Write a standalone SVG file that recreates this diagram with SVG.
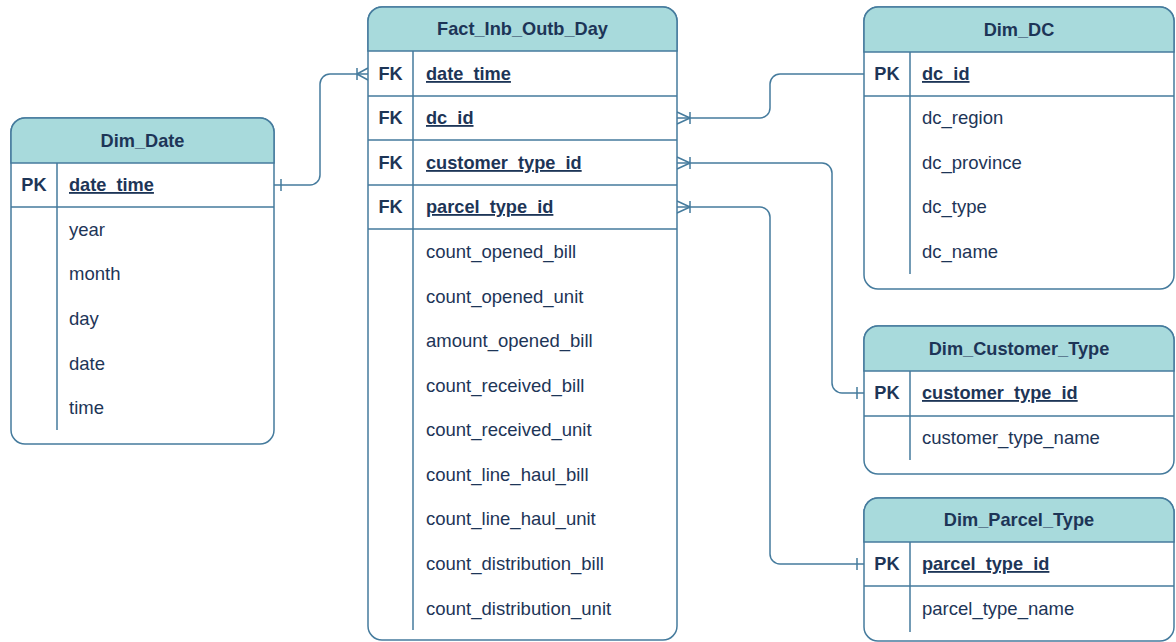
<svg xmlns="http://www.w3.org/2000/svg" width="1176" height="642" viewBox="0 0 1176 642">
<style>
.box{fill:#FFFFFF;stroke:#457B9D;stroke-width:1.5}
.hdr{fill:#A8DADC;stroke:#457B9D;stroke-width:1.5}
.ln{stroke:#457B9D;stroke-width:1.5;fill:none}
.t{font-family:"Liberation Sans",Arial,Helvetica,sans-serif;font-size:18.5px;fill:#1D3557}
.b{font-weight:bold;font-size:18.2px}
.c{text-anchor:middle}
.u{text-decoration:underline}
.conn{stroke:#457B9D;stroke-width:1.5;fill:none}
</style>
<rect width="1176" height="642" fill="#FFFFFF"/>
<g id="connectors">
  <path class="conn" d="M274 185 H310 A10 10 0 0 0 320 175 V84 A10 10 0 0 1 330 74 H368"/>
  <path class="conn" d="M281 179 V191"/>
  <path class="conn" d="M357 68 V80 M357 74 L368 68 M357 74 L368 80"/>
  <path class="conn" d="M864 74 H780 A10 10 0 0 0 770 84 V108 A10 10 0 0 1 760 118 H677"/>
  <path class="conn" d="M690 112 V124 M690 118 L677 112 M690 118 L677 124"/>
  <path class="conn" d="M677 163 H822 A10 10 0 0 1 832 173 V383 A10 10 0 0 0 842 393 H864"/>
  <path class="conn" d="M690 157 V169 M690 163 L677 157 M690 163 L677 169"/>
  <path class="conn" d="M857 387 V399"/>
  <path class="conn" d="M677 207 H760 A10 10 0 0 1 770 217 V554 A10 10 0 0 0 780 564 H864"/>
  <path class="conn" d="M690 201 V213 M690 207 L677 201 M690 207 L677 213"/>
  <path class="conn" d="M857 558 V570"/>
</g>
<g id="fact_inb_outb_day">
  <rect class="box" x="368" y="7" width="309" height="633" rx="14"/>
  <path class="hdr" d="M368 51 V21 A14 14 0 0 1 382 7 H663 A14 14 0 0 1 677 21 V51 Z"/>
  <path class="ln" d="M368 96 H677 M368 140 H677 M368 185 H677 M368 229 H677 M413 51 V630"/>
  <text class="t b c" x="522.5" y="35">Fact_Inb_Outb_Day</text>
  <text class="t b c" x="390.5" y="80">FK</text>
  <text class="t b c" x="390.5" y="124">FK</text>
  <text class="t b c" x="390.5" y="169">FK</text>
  <text class="t b c" x="390.5" y="213">FK</text>
  <text class="t b u" x="426" y="80">date_time</text>
  <text class="t b u" x="426" y="124">dc_id</text>
  <text class="t b u" x="426" y="169">customer_type_id</text>
  <text class="t b u" x="426" y="213">parcel_type_id</text>
  <text class="t" x="426" y="258">count_opened_bill</text>
  <text class="t" x="426" y="303">count_opened_unit</text>
  <text class="t" x="426" y="347">amount_opened_bill</text>
  <text class="t" x="426" y="392">count_received_bill</text>
  <text class="t" x="426" y="436">count_received_unit</text>
  <text class="t" x="426" y="481">count_line_haul_bill</text>
  <text class="t" x="426" y="525">count_line_haul_unit</text>
  <text class="t" x="426" y="570">count_distribution_bill</text>
  <text class="t" x="426" y="615">count_distribution_unit</text>
</g>
<g id="dim_date">
  <rect class="box" x="11" y="118" width="263" height="326" rx="14"/>
  <path class="hdr" d="M11 163 V132 A14 14 0 0 1 25 118 H260 A14 14 0 0 1 274 132 V163 Z"/>
  <path class="ln" d="M11 207 H274 M57 163 V430"/>
  <text class="t b c" x="142.5" y="147">Dim_Date</text>
  <text class="t b c" x="34" y="191">PK</text>
  <text class="t b u" x="69" y="191">date_time</text>
  <text class="t" x="69" y="236">year</text>
  <text class="t" x="69" y="280">month</text>
  <text class="t" x="69" y="325">day</text>
  <text class="t" x="69" y="370">date</text>
  <text class="t" x="69" y="414">time</text>
</g>
<g id="dim_dc">
  <rect class="box" x="864" y="7" width="310" height="282" rx="14"/>
  <path class="hdr" d="M864 52 V21 A14 14 0 0 1 878 7 H1160 A14 14 0 0 1 1174 21 V52 Z"/>
  <path class="ln" d="M864 96 H1174 M910 52 V274"/>
  <text class="t b c" x="1019" y="36">Dim_DC</text>
  <text class="t b c" x="887" y="80">PK</text>
  <text class="t b u" x="922" y="80">dc_id</text>
  <text class="t" x="922" y="124">dc_region</text>
  <text class="t" x="922" y="169">dc_province</text>
  <text class="t" x="922" y="213">dc_type</text>
  <text class="t" x="922" y="258">dc_name</text>
</g>
<g id="dim_customer_type">
  <rect class="box" x="864" y="326" width="310" height="148" rx="14"/>
  <path class="hdr" d="M864 371 V340 A14 14 0 0 1 878 326 H1160 A14 14 0 0 1 1174 340 V371 Z"/>
  <path class="ln" d="M864 416 H1174 M910 371 V460"/>
  <text class="t b c" x="1019" y="355">Dim_Customer_Type</text>
  <text class="t b c" x="887" y="399">PK</text>
  <text class="t b u" x="922" y="399">customer_type_id</text>
  <text class="t" x="922" y="444">customer_type_name</text>
</g>
<g id="dim_parcel_type">
  <rect class="box" x="864" y="498" width="310" height="143" rx="14"/>
  <path class="hdr" d="M864 542 V512 A14 14 0 0 1 878 498 H1160 A14 14 0 0 1 1174 512 V542 Z"/>
  <path class="ln" d="M864 586 H1174 M910 542 V632"/>
  <text class="t b c" x="1019" y="526">Dim_Parcel_Type</text>
  <text class="t b c" x="887" y="570">PK</text>
  <text class="t b u" x="922" y="570">parcel_type_id</text>
  <text class="t" x="922" y="615">parcel_type_name</text>
</g>
</svg>
